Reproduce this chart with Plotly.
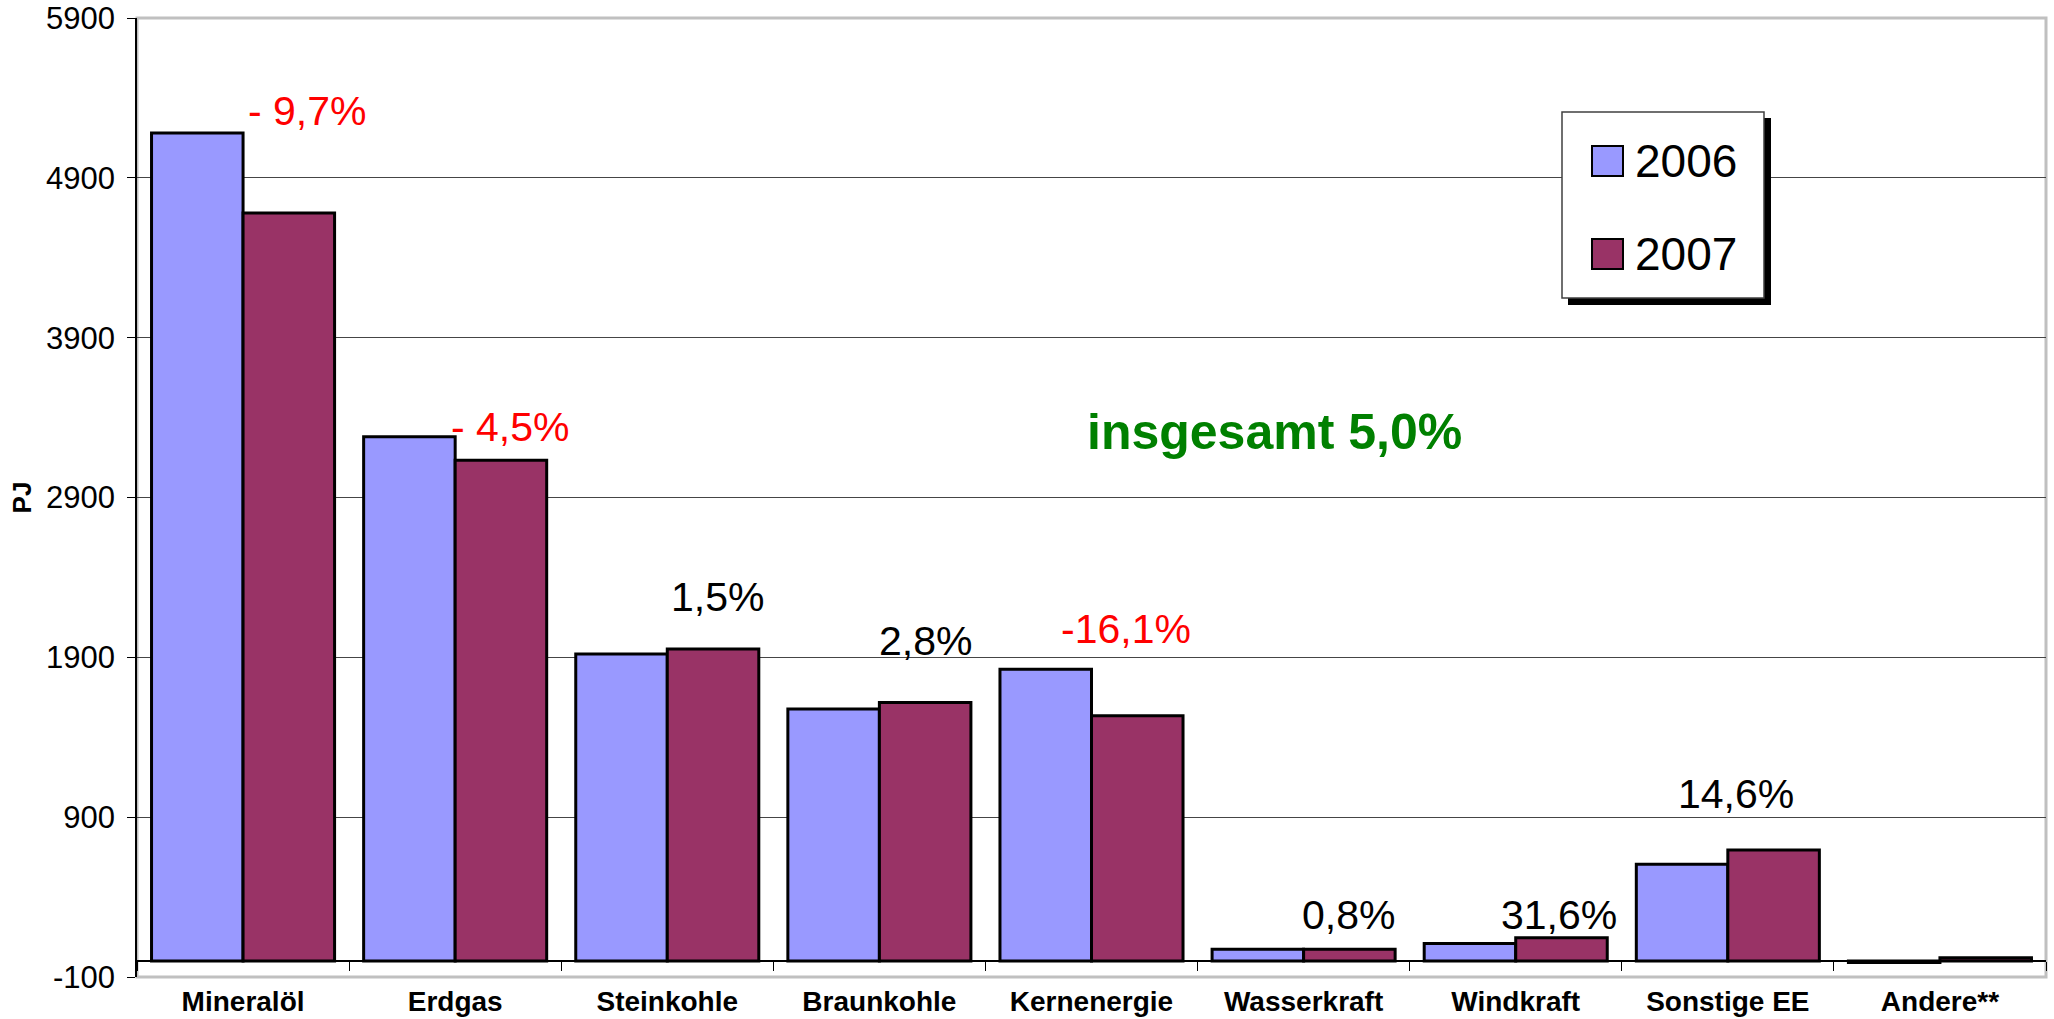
import plotly.graph_objects as go

# ---------------- data ----------------
categories = ["Mineralöl", "Erdgas", "Steinkohle", "Braunkohle", "Kernenergie",
              "Wasserkraft", "Windkraft", "Sonstige EE", "Andere**"]
values_2006 = [5180, 3280, 1921, 1576, 1826, 73, 110, 606, -10]
values_2007 = [4680, 3133, 1952, 1618, 1534, 74, 145, 694, 20]
series_names = ["2006", "2007"]
change_labels = ["- 9,7%", "- 4,5%", "1,5%", "2,8%", "-16,1%", "0,8%", "31,6%", "14,6%"]
change_colors = ["red", "red", "black", "black", "red", "black", "black", "black"]
total_label = "insgesamt 5,0%"
y_title = "PJ"
y_ticks = [-100, 900, 1900, 2900, 3900, 4900, 5900]
y_tick_labels = ["-100", "900", "1900", "2900", "3900", "4900", "5900"]
y_min, y_max = -100, 5900

# ---------------- style ----------------
FONT = "Liberation Sans, Arial, sans-serif"
C2006 = "#9999FF"
C2007 = "#993366"
W_FIG, H_FIG = 2054, 1019
L, R, T, B = 137, 2046, 18, 977
PW, PH = R - L, B - T


def px(x):
    return (x - L) / PW


def py(y):
    return (B - y) / PH


fig = go.Figure()
fig.add_trace(go.Bar(name=series_names[0], x=categories, y=values_2006,
                     marker=dict(color=C2006, line=dict(color="black", width=3)),
                     showlegend=False))
fig.add_trace(go.Bar(name=series_names[1], x=categories, y=values_2007,
                     marker=dict(color=C2007, line=dict(color="black", width=3)),
                     showlegend=False))

# percentage labels (positions in category/value space)
label_pos = [(0.306, 5316), (1.263, 3339), (2.239, 2275), (3.218, 2000),
             (4.163, 2075), (5.210, 286), (6.204, 286), (7.039, 1043)]
annotations = []
for (xp, yp), txt, col in zip(label_pos, change_labels, change_colors):
    annotations.append(dict(x=xp, y=yp, xref="x", yref="y", text=txt, showarrow=False,
                            xanchor="center", yanchor="middle",
                            font=dict(family=FONT, size=41, color=col)))

annotations.append(dict(x=4.865, y=3308, xref="x", yref="y", text="<b>" + total_label + "</b>",
                        showarrow=False, xanchor="center", yanchor="middle",
                        font=dict(family=FONT, size=50, color="#008000")))

# manual legend with shadow
shapes = [
    # plot frame (light gray)
    dict(type="rect", xref="paper", yref="paper", x0=0, x1=1, y0=0, y1=1,
         line=dict(color="#c0c0c0", width=3), layer="below"),
    # legend shadow
    dict(type="rect", xref="paper", yref="paper", x0=px(1568), x1=px(1771),
         y0=py(305), y1=py(118), fillcolor="black", line=dict(width=0)),
    # legend box
    dict(type="rect", xref="paper", yref="paper", x0=px(1562), x1=px(1764),
         y0=py(298), y1=py(112), fillcolor="white", line=dict(color="#404040", width=1.5)),
    dict(type="rect", xref="paper", yref="paper", x0=px(1592), x1=px(1623),
         y0=py(176), y1=py(146), fillcolor=C2006, line=dict(color="black", width=2)),
    dict(type="rect", xref="paper", yref="paper", x0=px(1592), x1=px(1623),
         y0=py(269), y1=py(239), fillcolor=C2007, line=dict(color="black", width=2)),
]
for name, yc in zip(series_names, [161, 254]):
    annotations.append(dict(x=px(1633), y=py(yc), xref="paper", yref="paper", text=name,
                            showarrow=False, xanchor="left", yanchor="middle",
                            font=dict(family=FONT, size=46, color="black")))

fig.update_layout(
    width=W_FIG, height=H_FIG,
    margin=dict(l=L, r=W_FIG - R, t=T, b=H_FIG - B, autoexpand=False),
    paper_bgcolor="white", plot_bgcolor="white",
    barmode="group", bargap=0.137, bargroupgap=0,
    showlegend=False,
    shapes=shapes, annotations=annotations,
    xaxis=dict(
        type="category", range=[-0.5, len(categories) - 0.5],
        anchor="free", position=(0 - y_min) / (y_max - y_min),
        automargin=False,
        showline=True, linecolor="black", linewidth=1.5,
        ticks="outside", tickson="boundaries", ticklen=9, tickcolor="black", tickwidth=1,
        ticklabelstandoff=16,
        tickfont=dict(family=FONT, size=28, color="black", weight="bold"),
        showgrid=False, zeroline=False,
    ),
    yaxis=dict(
        range=[y_min, y_max], tickmode="array", tickvals=y_ticks, ticktext=y_tick_labels,
        automargin=False, ticklabeloverflow="allow",
        showline=True, linecolor="black", linewidth=1.5,
        ticks="outside", ticklen=8, tickcolor="black",
        ticklabelstandoff=6,
        tickfont=dict(family=FONT, size=31, color="black"),
        showgrid=True, gridcolor="#454545", gridwidth=1,
        zeroline=False,
        title=dict(text="<b>" + y_title + "</b>", standoff=7,
                   font=dict(family=FONT, size=26, color="black")),
    ),
)

fig.write_html("out.html", config={"displayModeBar": False},
               post_script="document.body.style.margin='0';document.body.style.overflow='hidden';")
